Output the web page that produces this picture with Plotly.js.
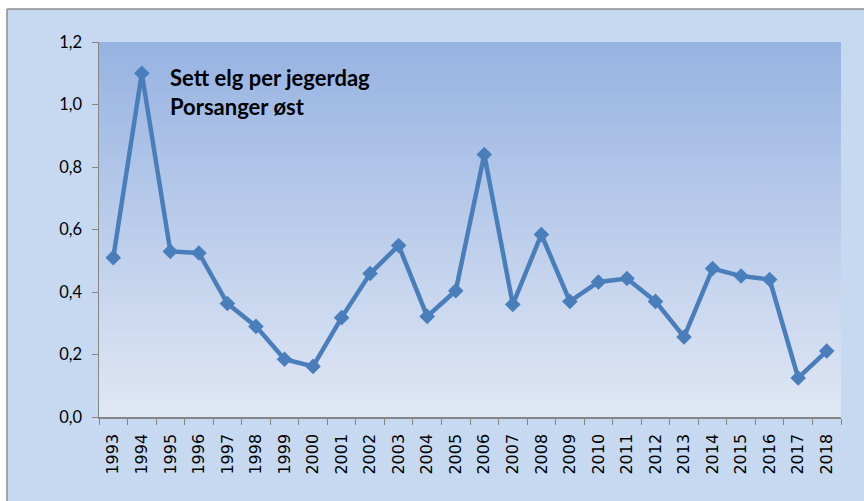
<!DOCTYPE html>
<html>
<head>
<meta charset="utf-8">
<script src="https://cdn.plot.ly/plotly-3.0.1.min.js"></script>
<style>
html,body{margin:0;padding:0;background:#fff;}
#chart{width:864px;height:501px;}
</style>
</head>
<body>
<div id="chart"></div>
<script>
const years = ["1993","1994","1995","1996","1997","1998","1999","2000","2001","2002","2003","2004","2005","2006","2007","2008","2009","2010","2011","2012","2013","2014","2015","2016","2017","2018"];
const settElg = [0.51,1.10,0.53,0.525,0.363,0.29,0.185,0.162,0.318,0.459,0.549,0.322,0.404,0.84,0.36,0.584,0.37,0.432,0.443,0.37,0.256,0.475,0.451,0.44,0.125,0.211];
const yTicks = [0,0.2,0.4,0.6,0.8,1.0,1.2];
const titleText = "Sett elg per jegerdag<br>Porsanger øst";

const gradSvg = '<svg xmlns="http://www.w3.org/2000/svg" width="100" height="100" viewBox="0 0 100 100" preserveAspectRatio="none">' +
  '<defs><linearGradient id="g" x1="0" y1="0" x2="0" y2="1">' +
  '<stop offset="0" stop-color="#97b3e2"/><stop offset="1" stop-color="#e0e7f4"/>' +
  '</linearGradient></defs><rect x="0" y="0" width="100" height="100" fill="url(#g)"/></svg>';
const gradSrc = 'data:image/svg+xml;charset=utf-8,' + encodeURIComponent(gradSvg);

const trace = {
  x: years,
  y: settElg,
  type: 'scatter',
  mode: 'lines+markers',
  line: {color: '#4a7ebb', width: 4.5},
  marker: {symbol: 'diamond', size: 12, color: '#4a7ebb'},
  hoverinfo: 'x+y'
};

const W = 864, H = 501;
const mL = 99, mR = 23, mT = 42, mB = 84;
const pw = W - mL - mR, ph = H - mT - mB;
const px = v => (v - mL) / pw;
const py = v => (H - mB - v) / ph;

const layout = {
  width: W, height: H,
  margin: {l: mL, r: mR, t: mT, b: mB, pad: 0},
  paper_bgcolor: '#c6d9f1',
  plot_bgcolor: 'rgba(0,0,0,0)',
  separators: ', ',
  showlegend: false,
  xaxis: {
    type: 'category',
    range: [-0.5, years.length - 0.5],
    showline: true, linecolor: '#868686', linewidth: 1.5,
    ticks: 'outside', tickson: 'boundaries', ticklen: 6, tickcolor: '#868686', tickwidth: 1,
    tickangle: -90,
    tickfont: {family: '"DejaVu Sans", Verdana, sans-serif', size: 16, color: '#000'},
    ticklabelstandoff: 9,
    showgrid: false, zeroline: false, fixedrange: true
  },
  yaxis: {
    range: [0, 1.2],
    tickvals: yTicks,
    tickformat: '.1f',
    showline: true, linecolor: '#868686', linewidth: 1.5,
    ticks: 'outside', ticklen: 6, tickcolor: '#868686', tickwidth: 1,
    tickfont: {family: 'Lato', size: 16.5, color: '#000'},
    ticklabelstandoff: 6,
    showgrid: false, zeroline: false, fixedrange: true
  },
  images: [{
    source: gradSrc, xref: 'paper', yref: 'paper',
    x: 0, y: 1, sizex: 1, sizey: 1, sizing: 'stretch',
    xanchor: 'left', yanchor: 'top', layer: 'below'
  }],
  shapes: [
    {type: 'rect', xref: 'paper', yref: 'paper', x0: px(-5), x1: px(W + 5), y0: py(9), y1: py(-5),
     fillcolor: '#ffffff', line: {width: 0}, layer: 'below'},
    {type: 'rect', xref: 'paper', yref: 'paper', x0: px(-5), x1: px(7), y0: py(H + 5), y1: py(-5),
     fillcolor: '#ffffff', line: {width: 0}, layer: 'below'},
    {type: 'line', xref: 'paper', yref: 'paper', x0: px(7), x1: px(W + 5), y0: py(9), y1: py(9),
     line: {color: '#8c8c8c', width: 1.5}, layer: 'below'},
    {type: 'line', xref: 'paper', yref: 'paper', x0: px(7), x1: px(7), y0: py(9), y1: py(H + 5),
     line: {color: '#8c8c8c', width: 1.5}, layer: 'below'}
  ],
  annotations: [{
    text: '<b>' + titleText + '</b>',
    xref: 'paper', yref: 'paper',
    x: px(168), y: py(62), xanchor: 'left', yanchor: 'top', align: 'left',
    showarrow: false,
    font: {family: 'Lato', size: 22, color: '#000'}
  }]
};

Plotly.newPlot('chart', [trace], layout, {displayModeBar: false, staticPlot: true});
</script>
</body>
</html>
